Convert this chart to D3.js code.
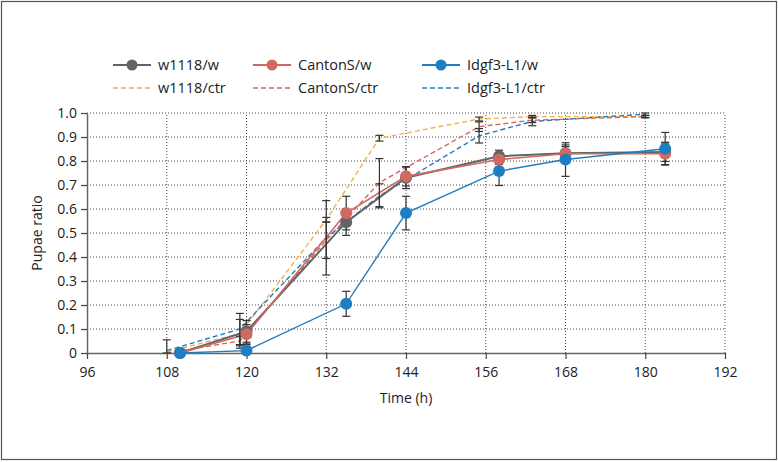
<!DOCTYPE html>
<html><head><meta charset="utf-8">
<script src="https://cdn.jsdelivr.net/npm/d3@7"></script>
<style>
body{margin:0;background:#fff;}
text{font-family:"Open Sans","Noto Sans",sans-serif;fill:#222;}
</style></head>
<body><svg id="c" width="778" height="462"></svg>
<script>
// ---- data ----
const xTicks = [96,108,120,132,144,156,168,180,192];
const yTicks = [0,0.1,0.2,0.3,0.4,0.5,0.6,0.7,0.8,0.9,1.0];
const timesW = [110,120,135,144,158,168,183];
const timesCtr = [108,119,132,140,155,163,180];

const w1118W = [0, 0.09, 0.545, 0.73, 0.82, 0.832, 0.838];
const w1118WErr = [0, 0.045, 0.055, 0.045, 0.025, 0.035, 0.04];
const cantonW = [0, 0.078, 0.583, 0.736, 0.806, 0.83, 0.83];
const cantonWErr = [0, 0.04, 0.07, 0.04, 0.02, 0.03, 0.045];
const idgfW = [0, 0.01, 0.205, 0.583, 0.758, 0.806, 0.851];
const idgfWErr = [0, 0.025, 0.052, 0.07, 0.06, 0.07, 0.068];

const w1118Ctr = [0.005, 0.08, 0.555, 0.895, 0.975, 0.985, 0.985];
const w1118CtrErr = [0, 0.06, 0.01, 0.012, 0.008, 0.005, 0.004];
const cantonCtr = [0, 0.05, 0.47, 0.71, 0.943, 0.97, 0.985];
const cantonCtrErr = [0, 0.02, 0.076, 0.1, 0.02, 0.01, 0.005];
const idgfCtr = [0.01, 0.1, 0.48, 0.655, 0.905, 0.965, 0.995];
const idgfCtrErr = [0.045, 0.065, 0.155, 0.05, 0.03, 0.018, 0.005];

const series = [
  {name:"w1118/w", t:timesW, v:w1118W, e:w1118WErr, color:"#646464", dash:null, marker:true, width:2},
  {name:"CantonS/w", t:timesW, v:cantonW, e:cantonWErr, color:"#d0695f", dash:null, marker:true, width:1.6},
  {name:"Idgf3-L1/w", t:timesW, v:idgfW, e:idgfWErr, color:"#1f7dc1", dash:null, marker:true, width:1.4},
  {name:"w1118/ctr", t:timesCtr, v:w1118Ctr, e:w1118CtrErr, color:"#f2b04c", dash:"5,3", marker:false, width:1.4},
  {name:"CantonS/ctr", t:timesCtr, v:cantonCtr, e:cantonCtrErr, color:"#d0695f", dash:"5,3", marker:false, width:1.4},
  {name:"Idgf3-L1/ctr", t:timesCtr, v:idgfCtr, e:idgfCtrErr, color:"#1f7dc1", dash:"5,3", marker:false, width:1.4}
];

// ---- layout ----
const svg = d3.select("#c");
const x = d3.scaleLinear().domain([96,192]).range([87,725]);
const y = d3.scaleLinear().domain([0,1]).range([353,113]);

svg.append("rect").attr("x",1.5).attr("y",1.5).attr("width",775).attr("height",458)
  .attr("fill","none").attr("stroke","#555").attr("stroke-width",1.2);

// grid
const g = svg.append("g");
g.selectAll(".hg").data(yTicks.filter(d=>d>0)).join("line")
  .attr("x1",x(96)).attr("x2",x(192)).attr("y1",d=>y(d)).attr("y2",d=>y(d))
  .attr("stroke","#444").attr("stroke-width",1).attr("stroke-dasharray","1,2");
g.selectAll(".vg").data(xTicks.filter(d=>d>96)).join("line")
  .attr("x1",d=>x(d)).attr("x2",d=>x(d)).attr("y1",y(0)).attr("y2",y(1))
  .attr("stroke","#444").attr("stroke-width",1).attr("stroke-dasharray","1,2");

// axes
const xAxis = svg.append("g").attr("transform",`translate(0,${y(0)})`)
  .call(d3.axisBottom(x).tickValues(xTicks).tickSize(6).tickSizeOuter(0).tickPadding(8));
const yAxis = svg.append("g").attr("transform",`translate(${x(96)},0)`)
  .call(d3.axisLeft(y).tickValues(yTicks).tickFormat(d=>d===0?"0":d3.format(".1f")(d)).tickSize(6).tickSizeOuter(0).tickPadding(4));
[xAxis,yAxis].forEach(a=>{
  a.select(".domain").attr("stroke","#666").attr("stroke-width",1.5);
  a.selectAll(".tick line").attr("stroke","#444").attr("stroke-width",1.2);
  a.selectAll("text").attr("font-size",14).attr("fill","#222").style("font-family","'Open Sans','Noto Sans',sans-serif");
});

svg.append("text").attr("x",(x(96)+x(192))/2).attr("y",403).attr("text-anchor","middle")
  .attr("font-size",14).text("Time (h)");
svg.append("text").attr("transform",`translate(42,${(y(0)+y(1))/2}) rotate(-90)`).attr("text-anchor","middle")
  .attr("font-size",14).text("Pupae ratio");

// lines
const line = d3.line().x(d=>x(d[0])).y(d=>y(d[1]));
const order = [3,4,5,0,1,2];
order.forEach(i=>{
  const s = series[i];
  const pts = s.t.map((t,j)=>[t,s.v[j]]);
  svg.append("path").datum(pts).attr("d",line).attr("fill","none")
    .attr("stroke",s.color).attr("stroke-width",s.width)
    .attr("stroke-dasharray",s.dash);
});
// error bars
series.forEach(s=>{
  const eg = svg.append("g").attr("stroke","#333").attr("stroke-width",1.2);
  s.t.forEach((t,j)=>{
    const e = s.e[j]; if(!e) return;
    const cx = x(t), y1 = y(s.v[j]+e), y2 = y(Math.max(0,s.v[j]-e));
    eg.append("line").attr("x1",cx).attr("x2",cx).attr("y1",y1).attr("y2",y2);
    eg.append("line").attr("x1",cx-4).attr("x2",cx+4).attr("y1",y1).attr("y2",y1);
    eg.append("line").attr("x1",cx-4).attr("x2",cx+4).attr("y1",y2).attr("y2",y2);
  });
});
// markers
series.filter(s=>s.marker).forEach(s=>{
  svg.append("g").selectAll("circle").data(s.t.map((t,j)=>[t,s.v[j]])).join("circle")
    .attr("cx",d=>x(d[0])).attr("cy",d=>y(d[1])).attr("r",6).attr("fill",s.color);
});

// legend
const legX = [113,253,422], legY = [65,88];
series.forEach((s,i)=>{
  const col = i%3, row = Math.floor(i/3);
  const lg = svg.append("g").attr("transform",`translate(${legX[col]},${legY[row]})`);
  lg.append("line").attr("x1",0).attr("x2",38).attr("y1",0).attr("y2",0)
    .attr("stroke",s.color).attr("stroke-width",s.marker?2:1.4).attr("stroke-dasharray",s.dash);
  if(s.marker) lg.append("circle").attr("cx",19).attr("cy",0).attr("r",5.5).attr("fill",s.color);
  lg.append("text").attr("x",45).attr("y",5).attr("font-size",14.5).text(s.name);
});
</script></body></html>
